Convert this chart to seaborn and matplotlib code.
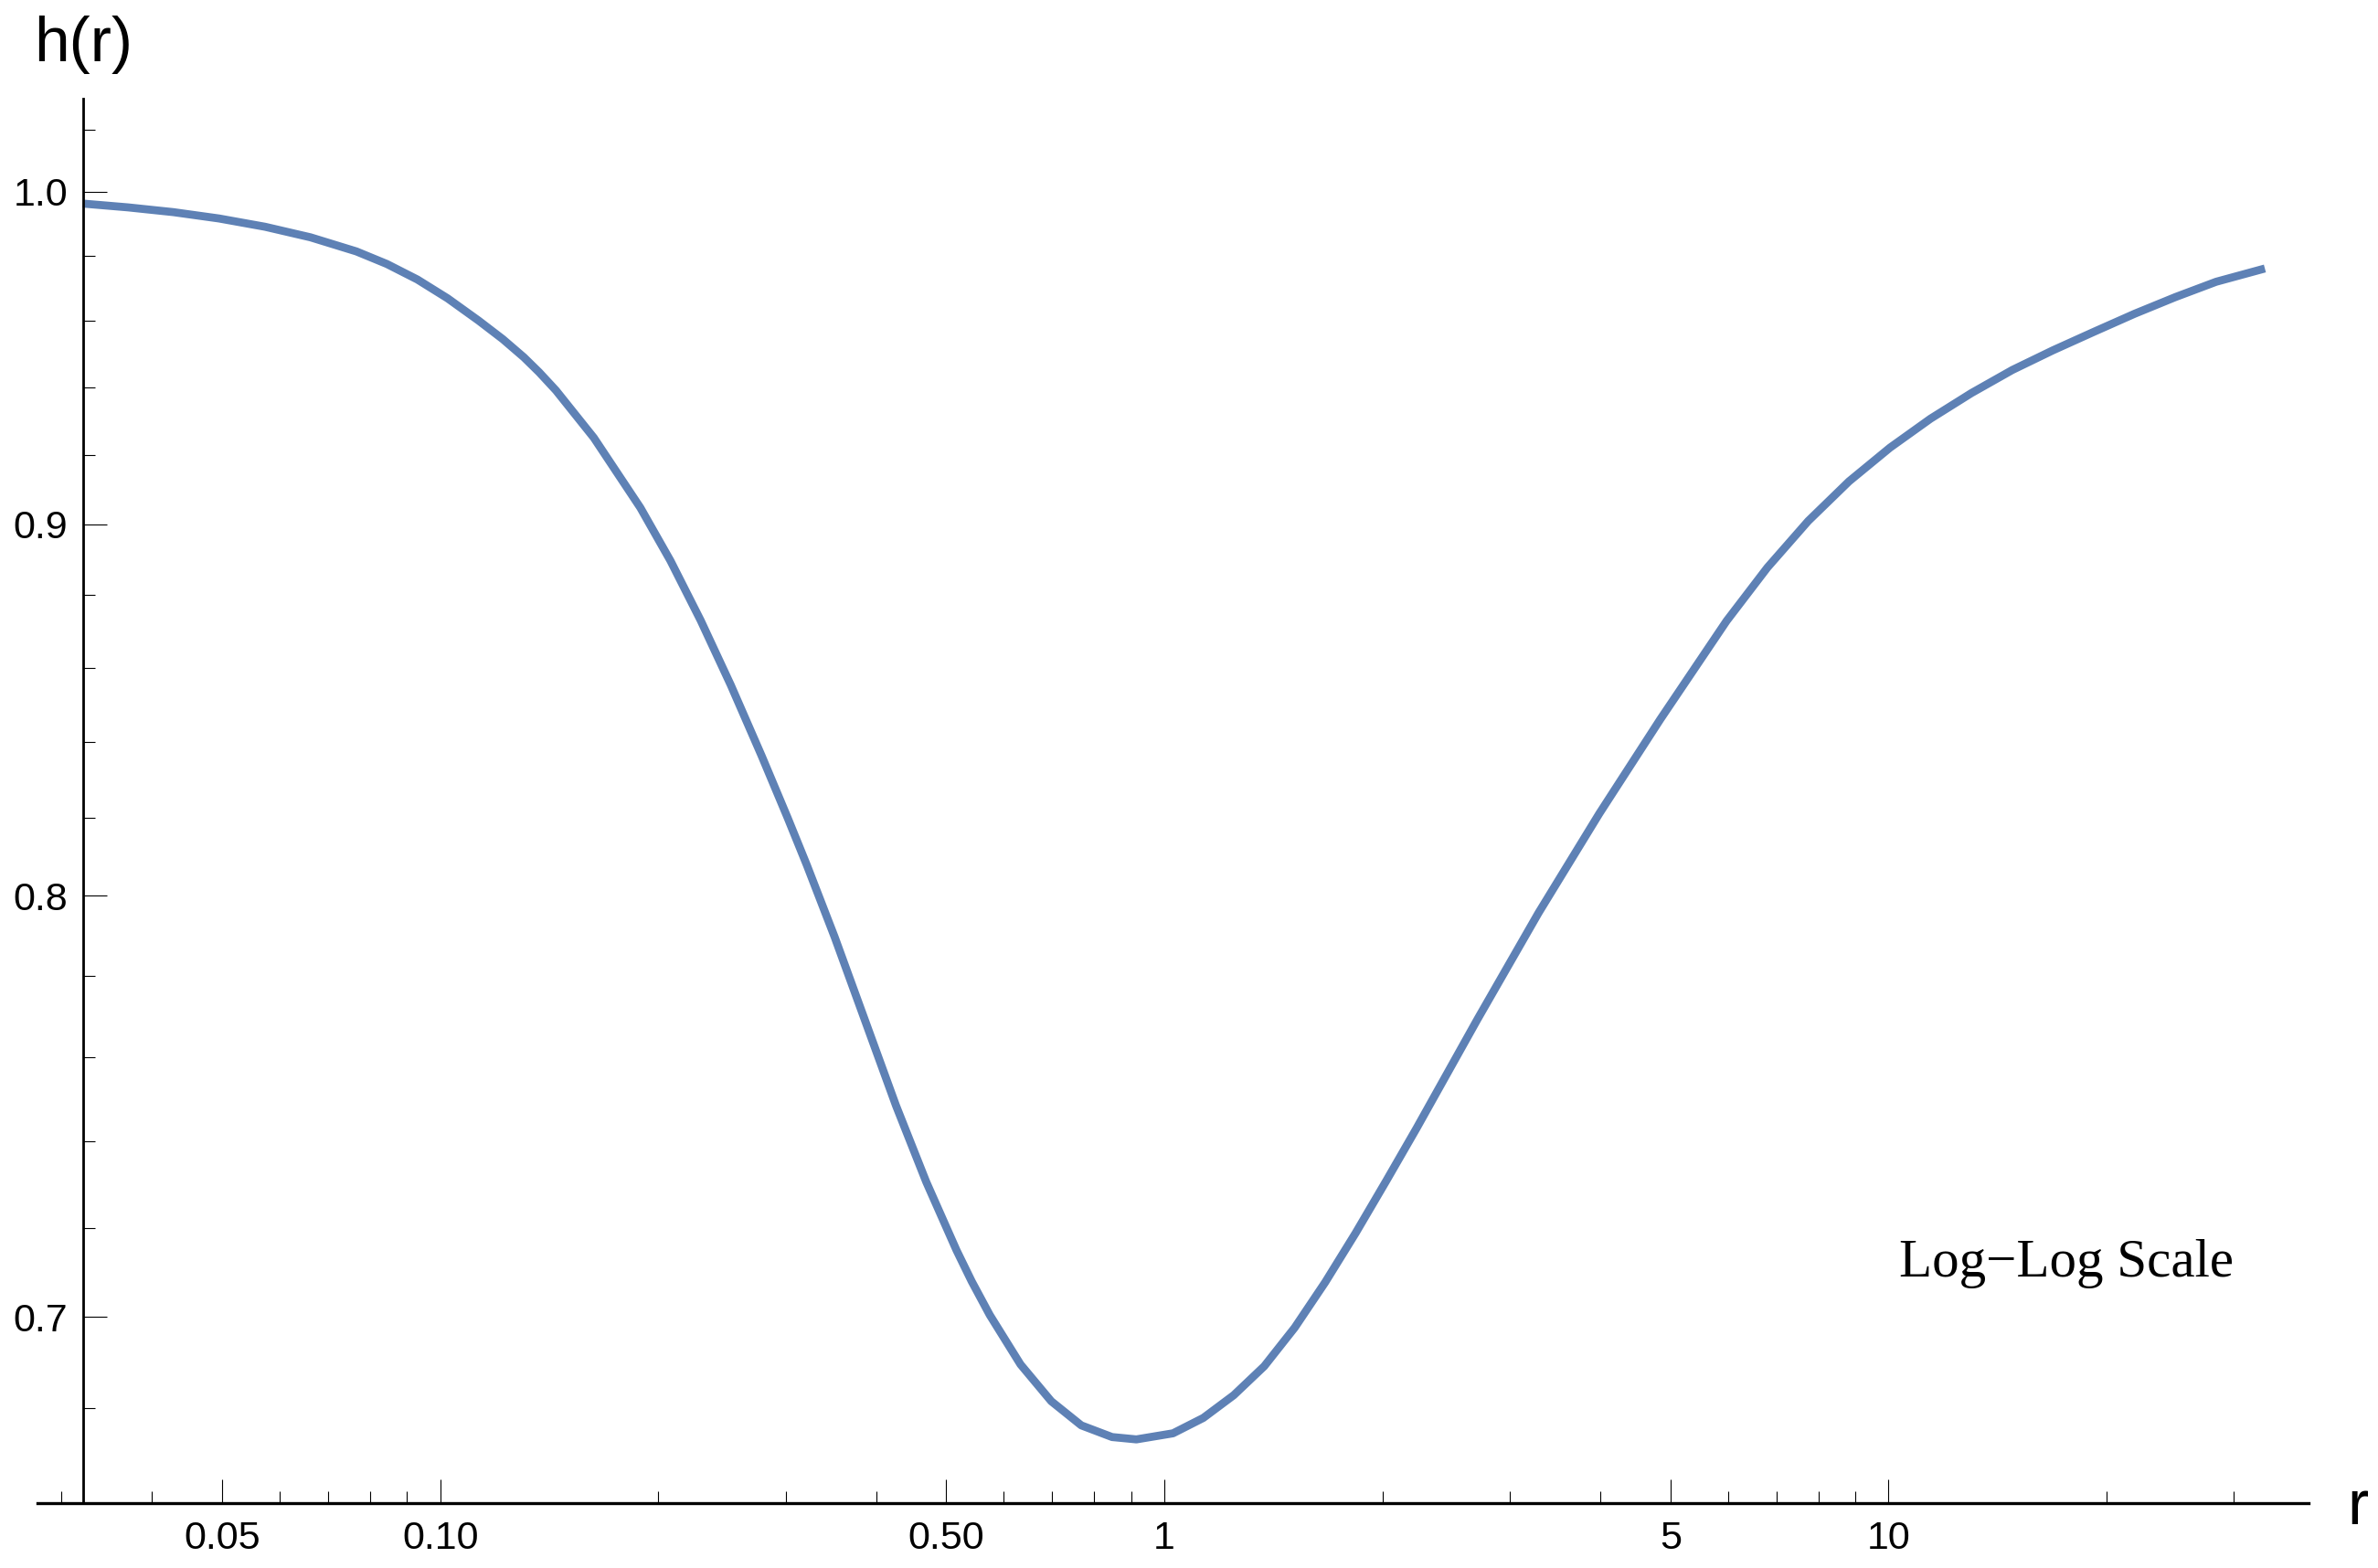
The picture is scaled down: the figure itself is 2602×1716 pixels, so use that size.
import numpy as np
import pandas as pd
import matplotlib
matplotlib.use("Agg")
import matplotlib.pyplot as plt
import matplotlib.ticker as mticker
import seaborn as sns

# ---- data ----
r_vals = [0.0321, 0.03705, 0.0428, 0.0495, 0.0573, 0.0662, 0.0766, 0.0844, 0.093, 0.1024,
          0.113, 0.122, 0.1305, 0.137, 0.1445, 0.163, 0.189,
          0.208, 0.229, 0.252, 0.278, 0.302, 0.321, 0.3505, 0.386, 0.426, 0.469,
          0.5165, 0.542, 0.574, 0.633, 0.698, 0.768, 0.847, 0.915, 1.028, 1.132,
          1.247, 1.374, 1.514, 1.668, 1.837, 2.025, 2.23, 2.706, 3.286, 3.988,
          4.841, 5.977, 6.805, 7.748, 8.822, 10.05, 11.43, 13.02, 14.83, 16.87,
          19.22, 21.88, 24.91, 28.35, 33.1]
h_vals = [0.9963, 0.9951, 0.9936, 0.9916, 0.9890, 0.9857, 0.9813, 0.9774, 0.9726, 0.9668,
          0.9600, 0.9544, 0.9489, 0.9444, 0.9390, 0.9250, 0.9047,
          0.8896, 0.8729, 0.8552, 0.8362, 0.8199, 0.8077, 0.7896, 0.7690, 0.7485, 0.7306,
          0.7149, 0.7079, 0.7004, 0.6895, 0.6815, 0.6763, 0.6738, 0.6733, 0.6746, 0.6779,
          0.6828, 0.6891, 0.6976, 0.7077, 0.7188, 0.7308, 0.7431, 0.7692, 0.7956, 0.8211,
          0.8460, 0.8728, 0.8877, 0.9009, 0.9123, 0.9221, 0.9306, 0.9382, 0.9451, 0.951,
          0.9566, 0.9621, 0.9672, 0.9719, 0.976]

x_major = [0.05, 0.1, 0.5, 1, 5, 10]
x_major_labels = ["0.05", "0.10", "0.50", "1", "5", "10"]
x_minor = [0.03, 0.04, 0.06, 0.07, 0.08, 0.09, 0.2, 0.3, 0.4, 0.6, 0.7, 0.8, 0.9,
           2, 3, 4, 6, 7, 8, 9, 20, 30]
y_major = [0.7, 0.8, 0.9, 1.0]
y_major_labels = ["0.7", "0.8", "0.9", "1.0"]
y_minor = [0.68, 0.72, 0.74, 0.76, 0.78, 0.82, 0.84, 0.86, 0.88, 0.92, 0.94, 0.96,
           0.98, 1.02]

df = pd.DataFrame({"r": r_vals, "h": h_vals})

sns.set_style("white")
plt.rcParams["font.family"] = ["Liberation Sans", "DejaVu Sans"]

W, H = 2602, 1716
fig = plt.figure(figsize=(W / 100, H / 100), dpi=100)
ax = fig.add_axes([41 / W, 1 - 1645 / H, (2526 - 41) / W, (1645 - 108) / H])

sns.lineplot(data=df, x="r", y="h", ax=ax, color="#5E81B5", linewidth=6.3,
             sort=False, estimator=None, solid_capstyle="butt",
             solid_joinstyle="round")

ax.set_xscale("log")
ax.set_yscale("log")
ax.set_xlim(0.02779, 38.03)
ax.set_ylim(0.65983, 1.02999)

ax.xaxis.set_major_locator(mticker.FixedLocator(x_major))
ax.xaxis.set_major_formatter(mticker.FixedFormatter(x_major_labels))
ax.xaxis.set_minor_locator(mticker.FixedLocator(x_minor))
ax.xaxis.set_minor_formatter(mticker.NullFormatter())
ax.yaxis.set_major_locator(mticker.FixedLocator(y_major))
ax.yaxis.set_major_formatter(mticker.FixedFormatter(y_major_labels))
ax.yaxis.set_minor_locator(mticker.FixedLocator(y_minor))
ax.yaxis.set_minor_formatter(mticker.NullFormatter())

for s in ["top", "right"]:
    ax.spines[s].set_visible(False)
ax.spines["left"].set_position(("data", 0.03214))
ax.spines["left"].set_linewidth(2.0)
ax.spines["bottom"].set_linewidth(2.4)
ax.spines["left"].set_color("black")
ax.spines["bottom"].set_color("black")

ax.tick_params(axis="both", which="major", direction="in", length=18.5, width=0.8,
               color="black", labelsize=31, labelcolor="black")
ax.tick_params(axis="both", which="minor", direction="in", length=9.5, width=0.8,
               color="black")
ax.tick_params(axis="x", which="major", pad=14)
ax.tick_params(axis="y", which="major", pad=12)
ax.tick_params(bottom=True, left=True, top=False, right=False, which="both")

ax.set_xlabel("")
ax.set_ylabel("")
ax.grid(False)
ax.set_facecolor("white")

fig.text(91 / W, 1 - 67 / H, "h(r)", ha="center", va="baseline", fontsize=50,
         color="black")
fig.text(2580 / W, 1 - 1668 / H, "r", ha="center", va="baseline", fontsize=50,
         color="black")
ax.text(2078 / W, 1 - 1397 / H, "Log\u2212Log Scale", transform=fig.transFigure,
        ha="left", va="baseline", fontsize=42.5, color="black",
        family=["Liberation Serif", "DejaVu Serif"])

fig.savefig("out.png", dpi=100, facecolor="white")
